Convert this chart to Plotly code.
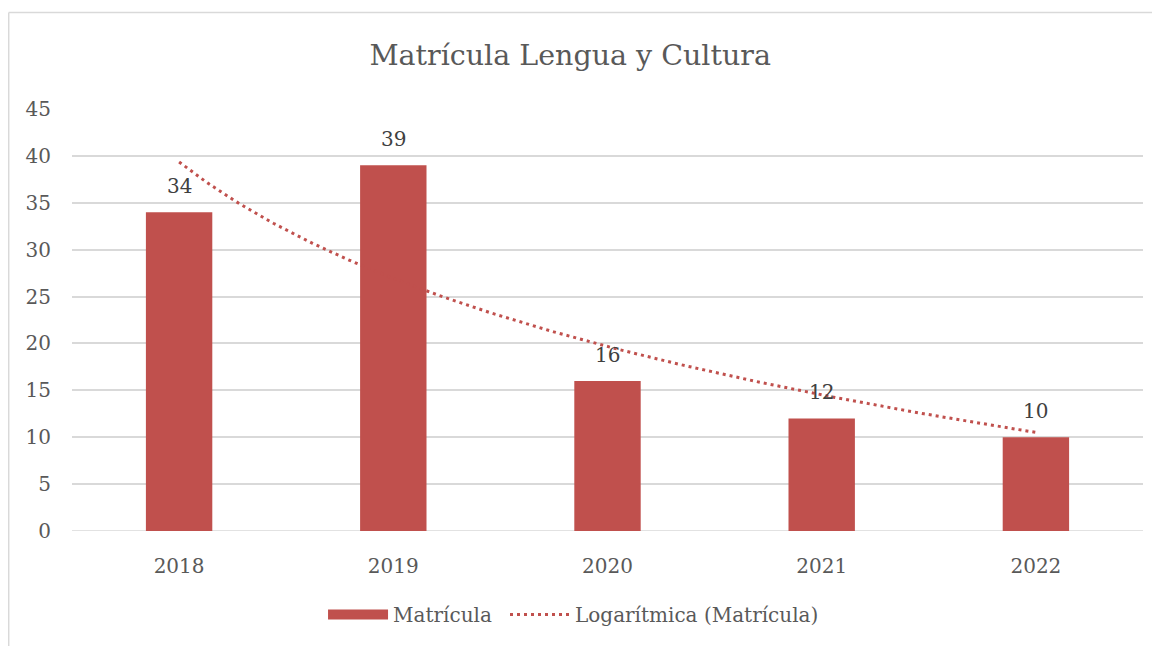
import numpy as np
import plotly.graph_objects as go

years = ['2018', '2019', '2020', '2021', '2022']
matricula = [34, 39, 16, 12, 10]
y_ticks = [0, 5, 10, 15, 20, 25, 30, 35, 40, 45]

RED = '#C0504D'
GRID = '#D9D9D9'
TXT = '#595959'
FONT = 'DejaVu Serif'

pos = np.arange(1, len(years) + 1)

# línea de tendencia logarítmica (como Excel): y = a + b*ln(x)
b, a = np.polyfit(np.log(pos), matricula, 1)
xs = np.linspace(1, len(years), 200)
ys = a + b * np.log(xs)

fig = go.Figure()

fig.add_trace(go.Bar(
    x=pos, y=matricula, name='Matrícula', showlegend=False,
    width=0.31, marker=dict(color=RED, line=dict(width=0)),
))

# entrada de leyenda con rectángulo ancho, como en Excel
fig.add_trace(go.Scatter(
    x=[None], y=[None], mode='lines', name='Matrícula',
    line=dict(color=RED, width=13), legend='legend'
))

fig.add_trace(go.Scatter(
    x=xs, y=ys, mode='lines', name='Logarítmica (Matrícula)',
    line=dict(color=RED, width=3, dash='3px,4px'), legend='legend2'
))

# etiquetas de datos
for xp, v in zip(pos, matricula):
    fig.add_annotation(x=xp, y=v, text=str(v), showarrow=False,
                       yanchor='bottom', yshift=12,
                       font=dict(family=FONT, size=20, color='#404040'))

leg = dict(orientation='h', xanchor='left', y=-0.198, yanchor='middle',
           font=dict(family=FONT, size=20, color=TXT), itemwidth=60,
           bgcolor='rgba(0,0,0,0)')

fig.update_layout(
    width=1152, height=638,
    margin=dict(l=64, r=17, t=101, b=113),
    paper_bgcolor='white', plot_bgcolor='white',
    font=dict(family=FONT, size=20, color=TXT),
    title=dict(text='Matrícula Lengua y Cultura', x=0.488, xanchor='center',
               y=0.926, yanchor='middle',
               font=dict(family=FONT, size=28.5, color=TXT)),
    showlegend=True,
    legend=dict(leg, x=0.2344),
    legend2=dict(leg, x=0.4043),
)

fig.update_xaxes(range=[0.5, len(years) + 0.5], tickvals=pos, ticktext=years,
                 showgrid=False, zeroline=False, showline=False, ticks='',
                 ticklabelstandoff=21,
                 tickfont=dict(family=FONT, size=20, color=TXT))
fig.update_yaxes(range=[0, 45], tickvals=y_ticks, showgrid=True, gridcolor=GRID,
                 gridwidth=1.5, zeroline=False, showline=False, ticks='',
                 ticklabelstandoff=20,
                 tickfont=dict(family=FONT, size=20, color=TXT))

# línea base y marco del gráfico (solo arriba e izquierda visibles)
fig.add_shape(type='line', xref='paper', yref='y', x0=0, x1=1, y0=0, y1=0,
              line=dict(color=GRID, width=1.5), layer='below')
fig.add_shape(type='line', xref='paper', yref='paper', x0=-0.0591, x1=1.03,
              y0=1.2288, y1=1.2288, line=dict(color=GRID, width=1.5))
fig.add_shape(type='line', xref='paper', yref='paper', x0=-0.0591, x1=-0.0591,
              y0=-0.3, y1=1.2288, line=dict(color=GRID, width=1.5))

fig.write_html('out.html')
